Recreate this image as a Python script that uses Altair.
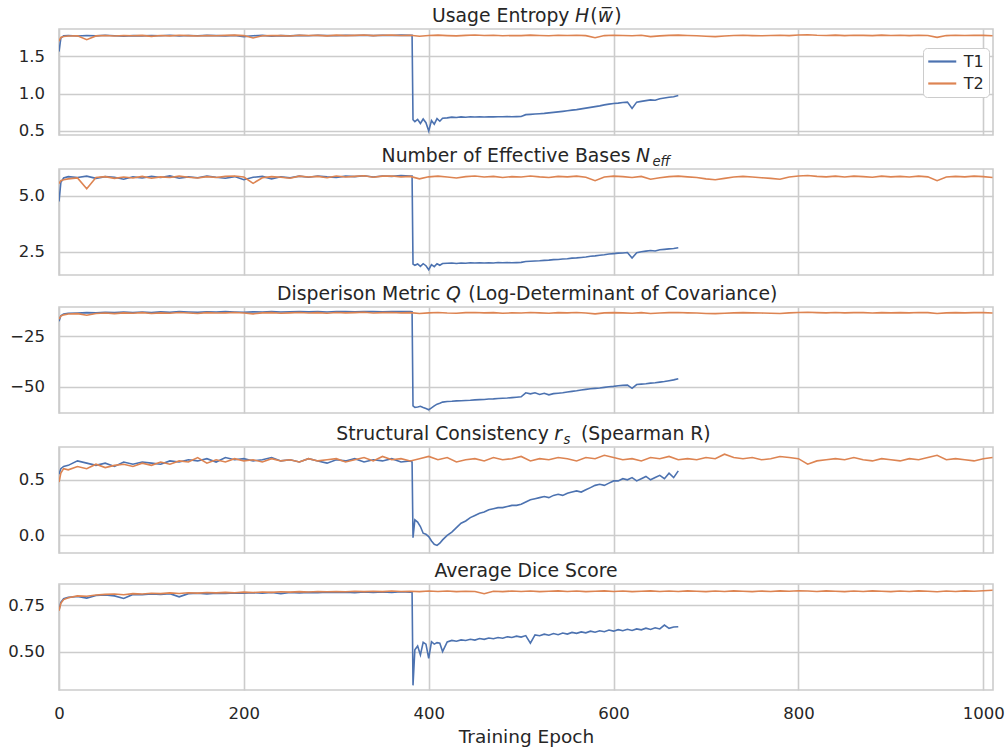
import altair as alt
import pandas as pd

FONT = "DejaVu Sans"
TEXT = "#262626"
GRID = "#cccccc"
BLUE = "#4c72b0"
ORANGE = "#dd8452"

# ---------------- x grids (training epochs) ----------------
EPOCH_T2 = [0, 2, 5] + list(range(10, 1011, 10))
EPOCH_T1 = ([0, 2, 5] + list(range(10, 381, 10))
            + [382, 383, 385, 388, 391, 394, 397, 400, 403, 406, 409, 412, 415]
            + list(range(420, 671, 5)))
X_TICKS = [0, 200, 400, 600, 800, 1000]
SERIES = ["T1", "T2"]

# ---------------- Usage entropy ----------------
H_T1 = ([1.56, 1.74, 1.772,
         1.776, 1.768, 1.775, 1.770, 1.778, 1.772, 1.766, 1.774, 1.770, 1.776,
         1.772, 1.778, 1.769, 1.775, 1.771, 1.777, 1.773, 1.770, 1.776, 1.760,
         1.772, 1.777, 1.765, 1.774, 1.770, 1.777, 1.772, 1.778, 1.774, 1.771,
         1.777, 1.775, 1.779, 1.773, 1.778, 1.776, 1.780, 1.777]
        + [1.777, 0.650, 0.625, 0.655, 0.600, 0.660, 0.610, 0.500, 0.640, 0.590, 0.665, 0.630, 0.670]
        + [0.675, 0.685, 0.680, 0.688, 0.684, 0.690, 0.686, 0.689, 0.687, 0.690,
           0.688, 0.690, 0.689, 0.691, 0.690, 0.692, 0.693, 0.718, 0.722, 0.726,
           0.730, 0.735, 0.742, 0.748, 0.755, 0.762, 0.770, 0.778, 0.785, 0.795,
           0.805, 0.815, 0.825, 0.835, 0.848, 0.858, 0.866, 0.872, 0.880, 0.885,
           0.800, 0.885, 0.895, 0.905, 0.915, 0.910, 0.930, 0.940, 0.950, 0.958,
           0.975])
H_T2 = [1.700, 1.750, 1.762,
        1.768, 1.772, 1.720, 1.770, 1.776, 1.768, 1.775, 1.771, 1.777, 1.764,
        1.776, 1.770, 1.779, 1.774, 1.769, 1.776, 1.772, 1.777, 1.780, 1.774,
        1.742, 1.771, 1.776, 1.773, 1.768, 1.779, 1.775, 1.777, 1.770, 1.780,
        1.774, 1.777, 1.781, 1.773, 1.778, 1.780, 1.775, 1.778, 1.765, 1.776,
        1.780, 1.774, 1.770, 1.777, 1.781, 1.775, 1.778, 1.771, 1.776, 1.774,
        1.780, 1.776, 1.772, 1.778, 1.775, 1.779, 1.773, 1.745, 1.774, 1.779,
        1.776, 1.772, 1.778, 1.760, 1.770, 1.777, 1.780, 1.775, 1.772, 1.765,
        1.760, 1.768, 1.775, 1.778, 1.774, 1.771, 1.776, 1.779, 1.774, 1.782,
        1.785, 1.778, 1.776, 1.780, 1.774, 1.779, 1.777, 1.773, 1.780, 1.776,
        1.778, 1.774, 1.779, 1.776, 1.750, 1.774, 1.778, 1.775, 1.779, 1.777,
        1.772]

# ---------------- Number of effective bases ----------------
N_T1 = ([4.75, 5.60, 5.80,
         5.86, 5.82, 5.88, 5.78, 5.86, 5.83, 5.74, 5.85, 5.80, 5.87,
         5.82, 5.89, 5.79, 5.85, 5.81, 5.88, 5.83, 5.79, 5.86, 5.72,
         5.83, 5.87, 5.76, 5.85, 5.81, 5.88, 5.83, 5.89, 5.85, 5.82,
         5.88, 5.86, 5.90, 5.84, 5.89, 5.87, 5.91, 5.88]
        + [5.88, 1.95, 1.90, 1.96, 1.85, 1.97, 1.88, 1.70, 1.93, 1.84, 1.97, 1.90, 1.98]
        + [1.99, 2.00, 1.98, 2.00, 1.99, 2.01, 2.00, 2.01, 2.00, 2.01,
           2.00, 2.02, 2.01, 2.02, 2.01, 2.02, 2.03, 2.07, 2.08, 2.09,
           2.10, 2.12, 2.13, 2.15, 2.16, 2.18, 2.19, 2.22, 2.23, 2.25,
           2.27, 2.30, 2.32, 2.35, 2.37, 2.40, 2.42, 2.44, 2.45, 2.47,
           2.22, 2.46, 2.50, 2.53, 2.56, 2.54, 2.59, 2.61, 2.63, 2.65,
           2.68])
N_T2 = [5.55, 5.68, 5.72,
        5.76, 5.80, 5.32, 5.82, 5.86, 5.78, 5.84, 5.80, 5.87, 5.79,
        5.85, 5.82, 5.88, 5.83, 5.80, 5.86, 5.82, 5.87, 5.89, 5.84,
        5.56, 5.81, 5.86, 5.83, 5.79, 5.88, 5.84, 5.87, 5.81, 5.89,
        5.84, 5.87, 5.90, 5.83, 5.88, 5.89, 5.85, 5.87, 5.76, 5.85,
        5.88, 5.84, 5.80, 5.86, 5.89, 5.84, 5.87, 5.82, 5.86, 5.84,
        5.89, 5.85, 5.82, 5.87, 5.85, 5.88, 5.83, 5.68, 5.84, 5.88,
        5.86, 5.82, 5.87, 5.74, 5.81, 5.86, 5.88, 5.85, 5.82, 5.76,
        5.72, 5.78, 5.84, 5.87, 5.84, 5.81, 5.78, 5.74, 5.84, 5.89,
        5.91, 5.87, 5.85, 5.88, 5.84, 5.88, 5.86, 5.83, 5.88, 5.85,
        5.87, 5.84, 5.88, 5.85, 5.68, 5.84, 5.87, 5.85, 5.88, 5.86,
        5.82]

# ---------------- Dispersion metric Q ----------------
Q_T1 = ([-17.5, -14.8, -14.0,
         -13.6, -13.5, -13.3, -13.4, -13.1, -13.3, -13.0, -13.2, -13.0, -13.2,
         -12.9, -13.1, -12.8, -13.0, -13.1, -12.9, -13.0, -12.8, -13.0, -13.1,
         -12.9, -13.0, -12.8, -13.0, -12.9, -12.7, -12.9, -12.8, -13.0, -12.7,
         -12.8, -12.9, -12.7, -12.8, -12.9, -12.7, -12.8, -12.7]
        + [-12.8, -59.5, -60.2, -60.0, -59.7, -60.3, -60.8, -61.4, -60.5, -59.5, -58.6, -58.2, -57.6]
        + [-57.3, -57.2, -57.0, -56.9, -56.8, -56.7, -56.5, -56.4, -56.3, -56.1,
           -56.0, -55.8, -55.7, -55.6, -55.4, -55.2, -55.0, -53.0, -53.5, -53.0,
           -53.8, -53.2, -54.0, -53.4, -53.2, -53.0, -52.6, -52.3, -52.0, -51.6,
           -51.3, -51.0, -50.8, -50.6, -50.3, -50.0, -49.8, -49.5, -49.3, -49.2,
           -50.8, -48.9, -48.7, -48.5, -48.2, -48.0, -47.7, -47.4, -47.0, -46.6,
           -46.0])
Q_T2 = [-16.5, -15.0, -14.4,
        -14.0, -13.8, -14.6, -13.7, -13.5, -13.8, -13.4, -13.6, -13.3, -13.7,
        -13.4, -13.6, -13.2, -13.5, -13.7, -13.3, -13.5, -13.4, -13.2, -13.5,
        -13.9, -13.4, -13.3, -13.6, -13.4, -13.2, -13.5, -13.3, -13.6, -13.2,
        -13.4, -13.3, -13.1, -13.5, -13.3, -13.2, -13.4, -13.3, -13.7, -13.4,
        -13.2, -13.5, -13.6, -13.3, -13.2, -13.4, -13.3, -13.6, -13.4, -13.5,
        -13.2, -13.4, -13.6, -13.3, -13.4, -13.2, -13.5, -13.9, -13.4, -13.3,
        -13.4, -13.6, -13.3, -13.7, -13.5, -13.3, -13.2, -13.4, -13.5, -13.7,
        -13.8, -13.6, -13.4, -13.3, -13.4, -13.5, -13.6, -13.7, -13.4, -13.2,
        -13.1, -13.3, -13.4, -13.2, -13.4, -13.3, -13.3, -13.5, -13.3, -13.4,
        -13.3, -13.4, -13.2, -13.3, -13.7, -13.4, -13.3, -13.4, -13.3, -13.3,
        -13.5]

# ---------------- Structural consistency r_s ----------------
R_T1 = ([0.55, 0.60, 0.62,
         0.63, 0.67, 0.65, 0.63, 0.65, 0.62, 0.66, 0.64, 0.66, 0.65,
         0.64, 0.67, 0.66, 0.68, 0.67, 0.69, 0.66, 0.70, 0.68, 0.69,
         0.67, 0.68, 0.70, 0.67, 0.68, 0.66, 0.69, 0.67, 0.65, 0.68,
         0.67, 0.69, 0.66, 0.68, 0.67, 0.69, 0.66, 0.67]
        + [0.66, -0.02, 0.14, 0.12, 0.08, 0.02, 0.01, -0.01, -0.05, -0.08, -0.09, -0.07, -0.04]
        + [0.00, 0.03, 0.07, 0.11, 0.13, 0.16, 0.18, 0.20, 0.21, 0.23,
           0.24, 0.25, 0.25, 0.26, 0.27, 0.27, 0.28, 0.30, 0.32, 0.33,
           0.34, 0.35, 0.34, 0.36, 0.37, 0.36, 0.38, 0.39, 0.40, 0.39,
           0.41, 0.43, 0.45, 0.46, 0.45, 0.47, 0.49, 0.49, 0.51, 0.50,
           0.52, 0.49, 0.51, 0.53, 0.50, 0.52, 0.54, 0.51, 0.56, 0.52,
           0.58])
R_T2 = [0.48, 0.56, 0.60,
        0.59, 0.62, 0.60, 0.64, 0.61, 0.63, 0.64, 0.62, 0.65, 0.63,
        0.66, 0.64, 0.67, 0.66, 0.70, 0.65, 0.68, 0.66, 0.69, 0.67,
        0.68, 0.66, 0.69, 0.67, 0.68, 0.66, 0.69, 0.67, 0.68, 0.69,
        0.66, 0.68, 0.70, 0.67, 0.71, 0.68, 0.69, 0.67, 0.69, 0.71,
        0.68, 0.70, 0.66, 0.68, 0.69, 0.67, 0.70, 0.68, 0.69, 0.71,
        0.67, 0.69, 0.68, 0.70, 0.69, 0.67, 0.70, 0.69, 0.72, 0.70,
        0.68, 0.69, 0.67, 0.70, 0.69, 0.71, 0.68, 0.69, 0.68, 0.70,
        0.69, 0.73, 0.70, 0.69, 0.70, 0.68, 0.69, 0.71, 0.70, 0.69,
        0.64, 0.67, 0.68, 0.69, 0.68, 0.70, 0.68, 0.67, 0.69, 0.68,
        0.67, 0.69, 0.68, 0.70, 0.72, 0.68, 0.69, 0.68, 0.67, 0.69,
        0.70]

# ---------------- Average Dice ----------------
D_T1 = ([0.725, 0.765, 0.785,
         0.792, 0.797, 0.788, 0.802, 0.805, 0.800, 0.786, 0.808, 0.806, 0.810,
         0.808, 0.812, 0.795, 0.812, 0.814, 0.811, 0.815, 0.813, 0.816, 0.814,
         0.817, 0.815, 0.818, 0.812, 0.818, 0.816, 0.819, 0.817, 0.820, 0.818,
         0.820, 0.817, 0.821, 0.819, 0.821, 0.818, 0.822, 0.820]
        + [0.820, 0.318, 0.510, 0.530, 0.482, 0.550, 0.540, 0.464, 0.553, 0.540, 0.548, 0.545, 0.500]
        + [0.552, 0.560, 0.556, 0.563, 0.560, 0.566, 0.562, 0.570, 0.566, 0.573,
           0.569, 0.576, 0.572, 0.580, 0.576, 0.583, 0.578, 0.586, 0.545, 0.590,
           0.585, 0.594, 0.588, 0.597, 0.591, 0.600, 0.594, 0.603, 0.598, 0.606,
           0.601, 0.610, 0.604, 0.612, 0.607, 0.616, 0.610, 0.618, 0.612, 0.620,
           0.614, 0.622, 0.617, 0.626, 0.619, 0.628, 0.622, 0.643, 0.625, 0.632,
           0.634])
D_T2 = [0.720, 0.760, 0.780,
        0.790, 0.800, 0.798, 0.805, 0.808, 0.810, 0.806, 0.812, 0.810, 0.814,
        0.812, 0.816, 0.813, 0.817, 0.815, 0.818, 0.816, 0.819, 0.817, 0.820,
        0.818, 0.821, 0.819, 0.822, 0.820, 0.823, 0.821, 0.824, 0.822, 0.824,
        0.822, 0.825, 0.823, 0.825, 0.823, 0.826, 0.824, 0.825, 0.823, 0.826,
        0.824, 0.826, 0.823, 0.825, 0.824, 0.812, 0.825, 0.823, 0.826, 0.824,
        0.826, 0.823, 0.825, 0.827, 0.824, 0.826, 0.823, 0.825, 0.827, 0.824,
        0.826, 0.823, 0.825, 0.827, 0.824, 0.826, 0.824, 0.827, 0.825, 0.823,
        0.826, 0.824, 0.827, 0.825, 0.823, 0.826, 0.824, 0.827, 0.825, 0.828,
        0.826, 0.824, 0.827, 0.825, 0.823, 0.826, 0.824, 0.827, 0.825, 0.823,
        0.826, 0.824, 0.827, 0.825, 0.822, 0.826, 0.824, 0.827, 0.825, 0.828,
        0.830]

# ---------------- layout constants ----------------
PLOT_W = 934
PLOT_H = 106
PLOT_LEFT = 58
TITLE_SIZE = 18.8
SUB_SIZE = 13.2
TITLE_Y = -7


def frame(t1, t2):
    rows = [{"epoch": e, "value": v, "run": SERIES[0]} for e, v in zip(EPOCH_T1, t1)]
    rows += [{"epoch": e, "value": v, "run": SERIES[1]} for e, v in zip(EPOCH_T2, t2)]
    return pd.DataFrame(rows)


def piece(text, x, italic=False, sub=False, align="left"):
    size = SUB_SIZE if sub else TITLE_SIZE
    y = TITLE_Y + (3.5 if sub else 0)
    return alt.Chart(pd.DataFrame({"t": [text]})).mark_text(
        align=align, baseline="alphabetic", font=FONT, fontSize=size,
        fontStyle="italic" if italic else "normal", color=TEXT,
    ).encode(x=alt.value(x - PLOT_LEFT), y=alt.value(y), text="t:N")


def panel(t1, t2, domain, ticks, fmt, pieces, gap, legend=None, last=False):
    if last:
        xaxis = alt.Axis(values=X_TICKS, format="d", title="Training Epoch", grid=True,
                         ticks=False, tickSize=0, domain=False, labelFontSize=16.5,
                         labelPadding=15, labelFlush=False, titleFontSize=18.5,
                         titlePadding=6, titleFontWeight="normal")
    else:
        xaxis = alt.Axis(values=X_TICKS, labels=False, title=None, grid=True, ticks=False,
                         tickSize=0, domain=False, minExtent=0, maxExtent=0)
    yaxis = alt.Axis(values=ticks, format=fmt, title=None, grid=True, ticks=False, tickSize=0,
                     domain=False, labelFontSize=16.5, labelPadding=14.5,
                     minExtent=PLOT_LEFT, maxExtent=PLOT_LEFT)
    lines = alt.Chart(frame(t1, t2)).mark_line(strokeWidth=1.6, clip=True).encode(
        x=alt.X("epoch:Q", scale=alt.Scale(domain=[0, 1010.5], nice=False, zero=False), axis=xaxis),
        y=alt.Y("value:Q", scale=alt.Scale(domain=domain, nice=False, zero=False), axis=yaxis),
        color=alt.Color("run:N", scale=alt.Scale(domain=SERIES, range=[BLUE, ORANGE]), legend=legend),
    )
    spacer = alt.Chart(pd.DataFrame({"a": [0]})).mark_rule(opacity=0, strokeWidth=1).encode(
        x=alt.value(0), y=alt.value(-gap), y2=alt.value(0))
    texts = [piece(*p) for p in pieces]
    return alt.layer(lines, spacer, *texts).properties(width=PLOT_W, height=PLOT_H)


legend1 = alt.Legend(title=None, orient="none", legendX=864, legendY=19,
                     symbolType="M-2,0H2", symbolSize=196, symbolStrokeWidth=2.2,
                     symbolOffset=5.75, labelOffset=13, labelFontSize=16, labelFont=FONT,
                     labelColor=TEXT, padding=5, rowPadding=5, strokeColor=GRID,
                     fillColor="white", cornerRadius=4)

p1 = panel(H_T1, H_T2, [0.446, 1.862], [0.5, 1.0, 1.5], ".1f",
           [("Usage Entropy", 568.5, False, False, "right"), ("H", 574, True), ("(", 589.3),
            ("w\u0305", 596.7, True), (")", 613.3)],
           28, legend=legend1)
p2 = panel(N_T1, N_T2, [1.465, 6.2], [2.5, 5.0], ".1f",
           [("Number of Effective Bases", 629.5, False, False, "right"), ("N", 635, True),
            ("eff", 651.5, True, True)],
           27)
p3 = panel(Q_T1, Q_T2, [-63, -10.5], [-50, -25], "d",
           [("Disperison Metric", 439.5, False, False, "right"), ("Q", 445, True),
            ("(Log-Determinant of Covariance)", 467.3)],
           29.5)
p4 = panel(R_T1, R_T2, [-0.158, 0.795], [0.0, 0.5], ".1f",
           [("Structural Consistency", 547.8, False, False, "right"), ("r", 553.3, True),
            ("s", 562.5, True, True), ("(Spearman R)", 580)],
           32)
p5 = panel(D_T1, D_T2, [0.293, 0.864], [0.5, 0.75], ".2f",
           [("Average Dice Score", 525, False, False, "center")],
           28.5, last=True)

chart = alt.vconcat(p1, p2, p3, p4, p5, spacing=0).resolve_legend(
    color="independent"
).properties(
    padding={"left": 0, "right": 0, "top": 0, "bottom": 0}, background="white"
).configure_view(
    stroke=GRID, strokeWidth=1.6
).configure_axis(
    gridColor=GRID, gridWidth=1.6, labelColor=TEXT, labelFont=FONT,
    titleColor=TEXT, titleFont=FONT
)

chart.save("out.html", embed_options={"renderer": "svg", "actions": False})
